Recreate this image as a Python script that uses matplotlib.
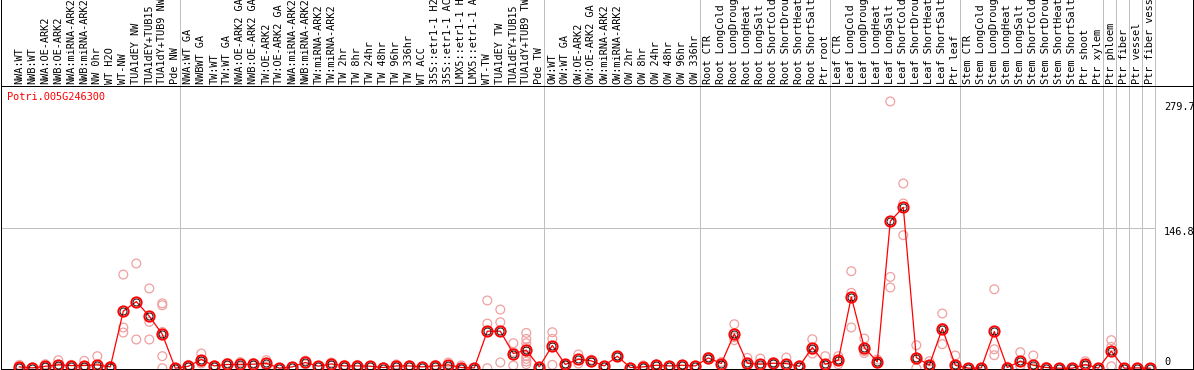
import matplotlib
matplotlib.use("Agg")
import matplotlib.pyplot as plt

gene = "Potri.005G246300"

labels = [
    "NWA:WT", "NWB:WT", "NWA:OE-ARK2", "NWB:OE-ARK2", "NWA:miRNA-ARK2", "NWB:miRNA-ARK2",
    "NW 0hr", "WT H2O", "WT-NW", "TUA1dEY NW", "TUA1dEY+TUB15", "TUA1dY+TUB9 NW", "Pde NW",
    "NWA:WT GA", "NWBWT GA", "TW:WT", "TW:WT GA", "NWA:OE-ARK2 GA", "NWB:OE-ARK2 GA",
    "TW:OE-ARK2", "TW:OE-ARK2 GA", "NWA:miRNA-ARK2", "NWB:miRNA-ARK2", "TW:miRNA-ARK2",
    "TW:miRNA-ARK2",
    "TW 2hr", "TW 8hr", "TW 24hr", "TW 48hr", "TW 96hr", "TW 336hr", "WT ACC",
    "35S::etr1-1 H2", "35S::etr1-1 AC", "LMX5::etr1-1 H", "LMX5::etr1-1 A", "WT-TW",
    "TUA1dEY TW", "TUA1dEY+TUB15", "TUA1dY+TUB9 TW", "Pde TW",
    "OW:WT", "OW:WT GA", "OW:OE-ARK2", "OW:OE-ARK2 GA", "OW:miRNA-ARK2", "OW:miRNA-ARK2",
    "OW 2hr", "OW 8hr", "OW 24hr", "OW 48hr", "OW 96hr", "OW 336hr",
    "Root CTR", "Root LongCold", "Root LongDroug", "Root LongHeat", "Root LongSalt",
    "Root ShortCold", "Root ShortDrou", "Root ShortHeat", "Root ShortSalt", "Ptr root",
    "Leaf CTR", "Leaf LongCold", "Leaf LongDroug", "Leaf LongHeat", "Leaf LongSalt",
    "Leaf ShortCold", "Leaf ShortDrou", "Leaf ShortHeat", "Leaf ShortSalt", "Ptr leaf",
    "Stem CTR", "Stem LongCold", "Stem LongDroug", "Stem LongHeat", "Stem LongSalt",
    "Stem ShortCold", "Stem ShortDrou", "Stem ShortHeat", "Stem ShortSalt", "Ptr shoot",
    "Ptr xylem", "Ptr phloem", "Ptr fiber", "Ptr vessel", "Ptr fiber vess",
]

means = [
    1.4, 0.3, 2.0, 3.5, 2.8, 2.8, 3.5, 1.4, 59.8, 69.9, 54.5, 35.6, 0.0,
    2.0, 9.1, 2.4, 3.9, 3.9, 4.2, 5.2, 0.0, 1.4, 6.0, 2.1, 4.5, 2.4, 2.4, 2.1, 0.7, 2.4,
    2.4, 1.4, 2.4, 3.5, 0.7, 0.3, 38.8, 38.8, 15.4, 18.9, 1.4,
    23.8, 3.9, 9.4, 7.7, 2.4, 12.6, 0.7, 1.4, 3.1, 2.4, 3.1, 2.4,
    10.8, 4.9, 36.0, 5.2, 4.2, 5.2, 4.9, 2.0, 21.7, 4.2,
    8.4, 74.8, 21.7, 6.6, 154.1, 168.8, 11.2, 3.1, 41.6, 3.1,
    0.0, 0.3, 38.5, 0.7, 7.3, 3.1, 0.7, 0.0, 0.0, 3.9, 0.0,
    17.8, 0.0, 0.3, 0.0,
]

replicates = [
    [3.5, 0.5, 0.2], [0.8, 0.1], [4.2, 1.5, 0.4], [8.4, 1.5, 0.6], [3.5, 2.4, 2.5], [7.7, 0.5, 0.2],
    [12.6, 0.0, 0.0], [2.0, 1.0, 1.2], [98.2, 42.7, 37.4], [109.8, 30.1], [83.6, 48.6, 30.1],
    [68.0, 66.0, 38.0, 12.6, 0.0], [0.0, 0.0],
    [3.5, 1.0], [15.4, 5.0, 7.0], [3.0, 1.8], [5.5, 2.5], [6.5, 1.5], [5.5, 2.8], [8.5, 2.0],
    [0.0, 0.0], [1.4, 1.4], [8.0, 4.0], [2.1, 2.1], [6.0, 3.0], [3.5, 1.4], [3.5, 1.4], [2.1, 2.1],
    [0.7, 0.7], [4.0, 1.0],
    [3.0, 1.8], [1.4, 1.4], [3.5, 1.4], [6.0, 1.0], [2.8, 0.0], [0.3, 0.3],
    [71.0, 46.8, 0.0], [61.5, 48.2, 6.0], [26.2, 17.0, 2.8],
    [37.0, 30.7, 26.2, 21.7, 12.6, 9.8, 7.0, 4.2], [1.4, 1.4],
    [37.7, 30.7, 3.5], [4.5, 3.3], [14.4, 4.9], [9.0, 6.0], [2.4, 2.4], [12.6, 12.6], [0.7, 0.7],
    [3.0, 0.5], [4.0, 2.0], [2.4, 2.4], [3.5, 2.5], [2.4, 2.4],
    [11.9, 9.1, 11.4], [6.5, 3.0], [46.1, 32.5, 29.4], [10.8, 2.0], [10.1, 1.0], [6.0, 4.5],
    [11.2, 2.0], [3.0, 1.0], [30.4, 19.0, 15.4], [12.6, 0.0],
    [12.6, 4.2, 8.4], [101.7, 79.0, 42.7], [31.1, 18.0, 16.0], [9.1, 4.9, 5.8],
    [279.7, 95.7, 84.6], [193.7, 172.7, 139.5], [24.1, 11.2, 0.0], [7.3, 3.1, 0.0],
    [57.3, 42.3, 25.2], [13.3, 2.0, 0.0],
    [0.0, 0.0], [0.3, 0.3], [82.8, 19.9, 13.6], [1.5, 0.5], [16.8, 3.0, 2.0], [13.3, 0.0, 0.0],
    [1.4, 0.5], [0.0, 0.0], [0.0, 0.0], [7.3, 2.0, 2.5], [0.0, 0.0],
    [29.4, 22.4, 2.0], [0.0, 0.0], [0.5, 0.2], [0.0, 0.0],
]

group_ends = [12, 40, 52, 62, 72, 83, 84, 85, 86, 87]
axis_values = [279.7, 146.8, 0]
axis_texts = ["279.7", "146.8", "0"]

W, H = 1194, 370
fig = plt.figure(figsize=(W / 100, H / 100), dpi=100)


def box(x0, y0, x1, y1):
    return [x0 / W, 1 - y1 / H, (x1 - x0) / W, (y1 - y0) / H]


PLOT_TOP, PLOT_BOT = 86, 369
ax = fig.add_axes(box(1, PLOT_TOP, 1193, PLOT_BOT))
lab = fig.add_axes(box(1, 0, 1193, PLOT_TOP))

PX = 13.0
xmin = -(19.3 - 1) / PX
xmax = xmin + 1192 / PX
ax.set_xlim(xmin, xmax)
lab.set_xlim(xmin, xmax)

ppu = 0.9537
zero_px = 368.2
ymin = -(PLOT_BOT - zero_px) / ppu
ymax = ymin + (PLOT_BOT - PLOT_TOP) / ppu
ax.set_ylim(ymin, ymax)
lab.set_ylim(0, PLOT_TOP)

LW = 0.72
for a in (ax, lab):
    a.set_xticks([])
    a.set_yticks([])
    for s in a.spines.values():
        s.set_linewidth(LW)
        s.set_color("black")
lab.spines["top"].set_visible(False)
lab.spines["bottom"].set_visible(False)

GRAY = "#c0c0c0"
sep_off = 0.385
for g in group_ends:
    ax.axvline(g + sep_off, color=GRAY, lw=LW, zorder=1)
    lab.axvline(g + sep_off, color=GRAY, lw=LW, zorder=1)

x_end_line = group_ends[-1] + sep_off
ax.plot([xmin, x_end_line], [axis_values[1], axis_values[1]], color=GRAY, lw=LW, zorder=1)

font = "DejaVu Sans Mono"
FS = 7.4
for i, t in enumerate(labels):
    lab.text(i, 2, t, rotation=90, ha="center", va="bottom", fontsize=FS,
             family=font, color="black", clip_on=True)

xs = list(range(len(means)))
rx, ry = [], []
for i, r in enumerate(replicates):
    for v in r:
        rx.append(i)
        ry.append(v)
ax.scatter(rx, ry, s=40, facecolors="none", edgecolors="#f0a0a0", linewidths=0.9, zorder=2)

ax.plot(xs, means, color="red", lw=0.9, zorder=3)
ax.plot(xs, means, ls="none", marker="o", ms=7.4, mfc="none", mec="red", mew=1.4, zorder=4)
ax.plot(xs, means, ls="none", marker="o", ms=5.0, mfc="none", mec="black", mew=0.6, zorder=5)

ax.text((7 - 1) / PX + xmin, ymax - (97 - PLOT_TOP) / ppu, gene, color="red", fontsize=FS,
        family=font, ha="left", va="center")

tx = (1164 - 1) / PX + xmin
offsets = [5.4, 4.3, -6.3]
for v, t, o in zip(axis_values, axis_texts, offsets):
    ax.text(tx, v - o / ppu, t, fontsize=FS, family=font, ha="left", va="center", color="black")

fig.savefig("out.png", dpi=100)
